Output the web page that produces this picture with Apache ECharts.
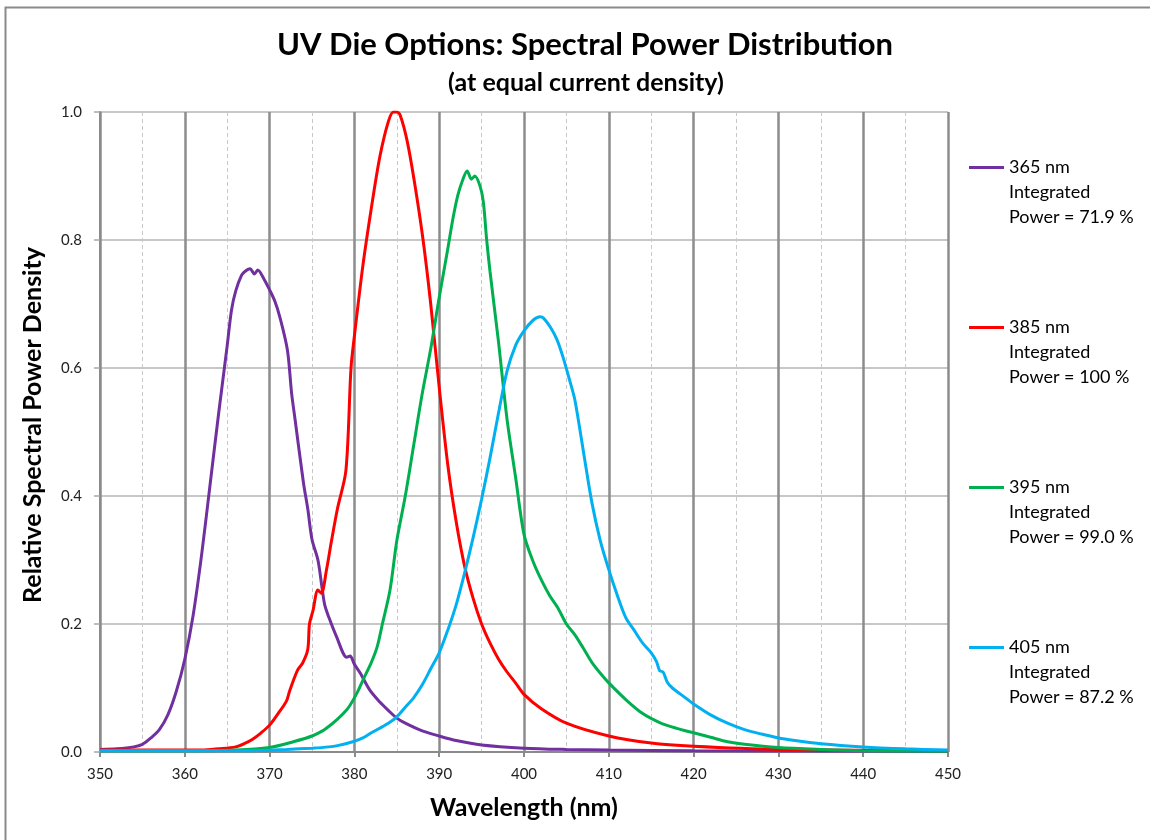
<!DOCTYPE html>
<html>
<head>
<meta charset="utf-8">
<script src="https://cdn.jsdelivr.net/npm/echarts@6/dist/echarts.min.js"></script>
<style>
  html, body { margin: 0; padding: 0; background: #fff; }
  #chart { width: 1150px; height: 840px; }
</style>
</head>
<body>
<div id="chart"></div>
<script>
// series names (legend text)
const seriesNames = [
  '365 nm\nIntegrated\nPower = 71.9 %',
  '385 nm\nIntegrated\nPower = 100 %',
  '395 nm\nIntegrated\nPower = 99.0 %',
  '405 nm\nIntegrated\nPower = 87.2 %'
];
const seriesColors = ['#7030A0', '#FF0000', '#00B050', '#00B0F0'];

// 365 nm die
const wl365 = [350, 352, 354, 355, 356, 357, 358, 359, 360, 361, 362, 363, 364, 365, 365.5, 366, 366.7, 367.2, 367.7, 368.2, 368.6, 369.3, 370, 370.6, 371.2, 372.1, 372.6, 373, 374, 374.5, 375, 375.7, 376.2, 376.5, 377, 377.9, 379.1, 379.5, 380, 380.7, 381.8, 383, 384, 385, 386, 388, 390, 392, 395, 400, 405, 410, 420, 450];
const val365 = [0.004, 0.005, 0.008, 0.012, 0.022, 0.035, 0.058, 0.095, 0.145, 0.215, 0.31, 0.42, 0.53, 0.635, 0.69, 0.72, 0.745, 0.752, 0.755, 0.747, 0.753, 0.74, 0.722, 0.705, 0.68, 0.628, 0.56, 0.52, 0.42, 0.38, 0.332, 0.3, 0.255, 0.23, 0.21, 0.18, 0.148, 0.15, 0.137, 0.123, 0.097, 0.078, 0.065, 0.053, 0.045, 0.033, 0.025, 0.018, 0.011, 0.006, 0.004, 0.003, 0.002, 0.001];

// 385 nm die
const wl385 = [350, 356, 362, 364, 366, 367, 368, 369, 370, 371, 372, 372.4, 373.3, 373.9, 374.5, 374.7, 375.1, 375.7, 376.1, 376.7, 377.3, 378, 379, 379.6, 380, 381, 382, 383, 384, 384.6, 385, 385.4, 386.2, 387.1, 388.1, 389, 390, 391, 392, 393, 394, 395, 396, 397, 398, 399, 400, 402, 405, 410, 415, 420, 430, 450];
const val385 = [0.003, 0.003, 0.003, 0.005, 0.008, 0.013, 0.02, 0.03, 0.042, 0.06, 0.08, 0.097, 0.128, 0.139, 0.16, 0.2, 0.22, 0.253, 0.248, 0.284, 0.33, 0.38, 0.44, 0.6, 0.65, 0.76, 0.85, 0.93, 0.985, 1.0, 1.0, 0.995, 0.956, 0.889, 0.8, 0.7, 0.57, 0.45, 0.36, 0.29, 0.24, 0.2, 0.17, 0.145, 0.125, 0.108, 0.09, 0.068, 0.045, 0.025, 0.014, 0.009, 0.004, 0.002];

// 395 nm die
const wl395 = [350, 360, 366, 370, 372.8, 375, 376.7, 379.1, 380.3, 381, 382, 382.7, 383.3, 384.2, 385, 386, 387, 388, 389, 390, 391, 391.6, 392.2, 392.8, 393.3, 393.8, 394.2, 394.8, 395.2, 395.6, 396, 397, 398, 399, 400, 401, 402, 403, 404, 405, 406, 407, 408, 409, 410, 412, 414, 416, 418, 420, 422, 424, 426, 430, 435, 440, 450];
const val395 = [0.002, 0.002, 0.003, 0.007, 0.016, 0.025, 0.037, 0.066, 0.092, 0.112, 0.14, 0.165, 0.2, 0.253, 0.33, 0.4, 0.48, 0.56, 0.63, 0.71, 0.785, 0.832, 0.87, 0.895, 0.908, 0.895, 0.9, 0.885, 0.86, 0.8, 0.75, 0.64, 0.52, 0.43, 0.34, 0.3, 0.27, 0.245, 0.225, 0.2, 0.183, 0.162, 0.14, 0.123, 0.108, 0.082, 0.06, 0.046, 0.037, 0.03, 0.023, 0.016, 0.012, 0.007, 0.004, 0.002, 0.001];

// 405 nm die
const wl405 = [350, 360, 368, 372, 375, 377, 378, 379.8, 381, 382, 384, 385, 386, 387, 388, 389, 390, 391, 392, 393, 394, 395, 396, 397, 398, 399, 400, 401.1, 401.9, 402.3, 403.1, 403.9, 404.6, 405.4, 406, 407, 408, 409, 410, 411, 412, 413, 414, 415, 415.6, 416, 416.4, 416.9, 417.5, 419, 420, 422, 424, 426, 428, 430, 432, 435, 440, 445, 450];
const val405 = [0.002, 0.002, 0.002, 0.004, 0.006, 0.008, 0.01, 0.016, 0.022, 0.03, 0.045, 0.055, 0.07, 0.085, 0.105, 0.13, 0.155, 0.19, 0.23, 0.28, 0.335, 0.395, 0.46, 0.53, 0.595, 0.635, 0.658, 0.675, 0.68, 0.678, 0.664, 0.644, 0.617, 0.58, 0.55, 0.47, 0.39, 0.33, 0.285, 0.245, 0.21, 0.19, 0.17, 0.155, 0.142, 0.127, 0.125, 0.109, 0.1, 0.085, 0.075, 0.058, 0.045, 0.035, 0.028, 0.022, 0.018, 0.013, 0.008, 0.005, 0.003];

const wavelengths = [wl365, wl385, wl395, wl405];
const values = [val365, val385, val395, val405];

const zip = (xs, ys) => xs.map((x, i) => [x, ys[i]]);

const chart = echarts.init(document.getElementById('chart'), null, { renderer: 'canvas' });

const fontFamily = 'Lato, "Open Sans", sans-serif';

// legend icon: a 3px line at the top of a tall box, so it sits level with the first text line
const legendIcon = 'path://M0,0L35,0L35,3L0,3Z M0,53L0.001,53Z';

chart.setOption({
  animation: false,
  backgroundColor: '#fff',
  textStyle: { fontFamily: fontFamily },
  graphic: [{
    type: 'rect',
    shape: { x: 5.5, y: 7.5, width: 1300, height: 1000 },
    style: { fill: 'none', stroke: '#8a8a8a', lineWidth: 2 },
    silent: true
  }],
  title: [{
    text: 'UV Die Options: Spectral Power Distribution',
    left: 580,
    top: 24,
    textAlign: 'center',
    textStyle: { fontSize: 31, fontWeight: 'bold', color: '#000', fontFamily: fontFamily }
  }, {
    text: '(at equal current density)',
    left: 581,
    top: 65,
    textAlign: 'center',
    textStyle: { fontSize: 25, fontWeight: 'bold', color: '#000', fontFamily: fontFamily }
  }],
  legend: {
    orient: 'vertical',
    left: 969,
    top: 155,
    padding: 0,
    itemWidth: 35,
    itemHeight: 53,
    itemGap: 85,
    icon: legendIcon,
    symbolKeepAspect: false,
    itemStyle: { borderWidth: 0 },
    data: seriesNames.map((n, i) => ({ name: n, itemStyle: { color: seriesColors[i], borderWidth: 0 } })),
    textStyle: {
      fontSize: 18,
      color: '#000',
      lineHeight: 25,
      fontFamily: fontFamily
    }
  },
  grid: { left: 100, right: 202, top: 112, bottom: 88, containLabel: false },
  xAxis: {
    type: 'value',
    min: 350,
    max: 450,
    interval: 10,
    name: 'Wavelength (nm)',
    nameLocation: 'middle',
    nameGap: 43,
    nameTextStyle: { fontSize: 25, fontWeight: 'bold', color: '#000', fontFamily: fontFamily },
    axisLine: { show: true, lineStyle: { color: '#8a8a8a', width: 2 } },
    axisTick: { show: true, length: 5, lineStyle: { color: '#8a8a8a', width: 2 } },
    axisLabel: { fontSize: 15, color: '#222', margin: 15 },
    splitLine: { show: true, lineStyle: { color: '#8c8c8c', width: 2.5 } },
    minorTick: { show: false, splitNumber: 2 },
    minorSplitLine: { show: true, lineStyle: { color: '#c8c8c8', width: 1, type: [4, 3] } }
  },
  yAxis: {
    type: 'value',
    min: 0,
    max: 1,
    interval: 0.2,
    name: 'Relative Spectral Power Density',
    nameLocation: 'middle',
    nameGap: 55,
    nameTextStyle: { fontSize: 25, fontWeight: 'bold', color: '#000', fontFamily: fontFamily, padding: [0, 0, 0, 14] },
    axisLine: { show: true, lineStyle: { color: '#8a8a8a', width: 2 } },
    axisTick: { show: true, length: 6, lineStyle: { color: '#a6a6a6', width: 1.5 } },
    axisLabel: { fontSize: 15, color: '#222', margin: 18, formatter: v => v.toFixed(1) },
    splitLine: { show: true, lineStyle: { color: '#b4b4b4', width: 1.5 } }
  },
  series: seriesNames.map((n, i) => ({
    name: n,
    type: 'line',
    showSymbol: false,
    symbol: 'none',
    smooth: 0.3,
    data: zip(wavelengths[i], values[i]),
    lineStyle: { color: seriesColors[i], width: 3 },
    itemStyle: { color: seriesColors[i] },
    z: 3 + i
  }))
});
</script>
</body>
</html>
